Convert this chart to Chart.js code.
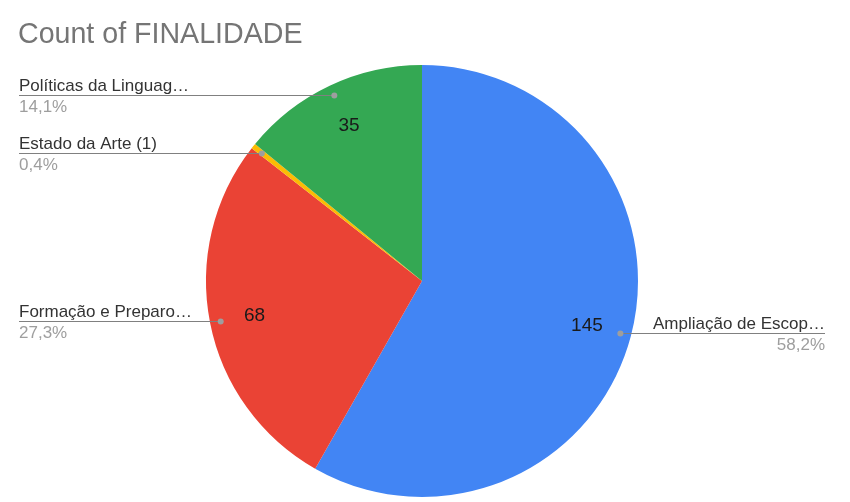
<!DOCTYPE html>
<html>
<head>
<meta charset="utf-8">
<script src="https://cdn.jsdelivr.net/npm/chart.js@4.4.1/dist/chart.umd.min.js"></script>
<style>
  html, body { margin: 0; padding: 0; background: #fff; }
  #wrap { width: 850px; height: 502px; position: relative; }
</style>
</head>
<body>
<div id="wrap"><canvas id="pieChart" width="850" height="502"></canvas></div>
<script>
const chartTitle = 'Count of FINALIDADE';
const categories = ['Ampliação de Escop…', 'Formação e Preparo…', 'Estado da Arte (1)', 'Políticas da Linguag…'];
const counts = [145, 68, 1, 35];
const sliceColors = ['#4285F4', '#EA4335', '#FBBC04', '#34A853'];
const showValue = [true, true, false, true];

const FONT = '"Liberation Sans", Arial, sans-serif';
const total = counts.reduce((a, b) => a + b, 0);
const pct = v => (v / total * 100).toFixed(1).replace('.', ',') + '%';

// rótulos com linhas de ligação, no estilo do Google Sheets
const leaderLabels = {
  id: 'leaderLabels',
  afterDatasetsDraw(chart) {
    const ctx = chart.ctx;
    const arcs = chart.getDatasetMeta(0).data;
    ctx.save();
    arcs.forEach((arc, i) => {
      const mid = (arc.startAngle + arc.endAngle) / 2;
      const R = arc.outerRadius;
      // valor dentro da fatia
      if (showValue[i]) {
        ctx.font = '19px ' + FONT;
        ctx.fillStyle = '#1a1a1a';
        ctx.textAlign = 'center';
        ctx.textBaseline = 'middle';
        ctx.fillText(String(counts[i]), arc.x + Math.cos(mid) * R * 0.79, arc.y + Math.sin(mid) * R * 0.8 + 1);
      }
      // ponto e linha
      const px = arc.x + Math.cos(mid) * R * 0.95;
      const py = Math.round(arc.y + Math.sin(mid) * R * 0.95) + 0.5;
      const right = Math.cos(mid) > 0;
      const endX = right ? 825 : 19;
      ctx.strokeStyle = '#808080';
      ctx.lineWidth = 1.2;
      ctx.beginPath();
      ctx.moveTo(px, py);
      ctx.lineTo(endX, py);
      ctx.stroke();
      ctx.fillStyle = '#9e9e9e';
      ctx.beginPath();
      ctx.arc(px, py, 3, 0, Math.PI * 2);
      ctx.fill();
      ctx.textAlign = right ? 'right' : 'left';
      ctx.textBaseline = 'alphabetic';
      ctx.font = '17px ' + FONT;
      ctx.fillStyle = '#333';
      ctx.fillText(categories[i], endX, py - 5);
      ctx.fillStyle = '#9e9e9e';
      ctx.fillText(pct(counts[i]), endX, py + 16);
    });
    // título
    ctx.font = '28.6px ' + FONT;
    ctx.fillStyle = '#757575';
    ctx.textAlign = 'left';
    ctx.textBaseline = 'alphabetic';
    ctx.fillText(chartTitle, 18, 43);
    ctx.restore();
  }
};

const ctx = document.getElementById('pieChart').getContext('2d');
const pieChart = new Chart(ctx, {
  type: 'pie',
  data: {
    labels: categories,
    datasets: [{
      data: counts,
      backgroundColor: sliceColors,
      borderWidth: 0
    }]
  },
  options: {
    responsive: false,
    animation: false,
    devicePixelRatio: 1,
    layout: { padding: { top: 65, bottom: 5, left: 206, right: 212 } },
    plugins: {
      legend: { display: false },
      tooltip: { enabled: false }
    }
  },
  plugins: [leaderLabels]
});
</script>
</body>
</html>
